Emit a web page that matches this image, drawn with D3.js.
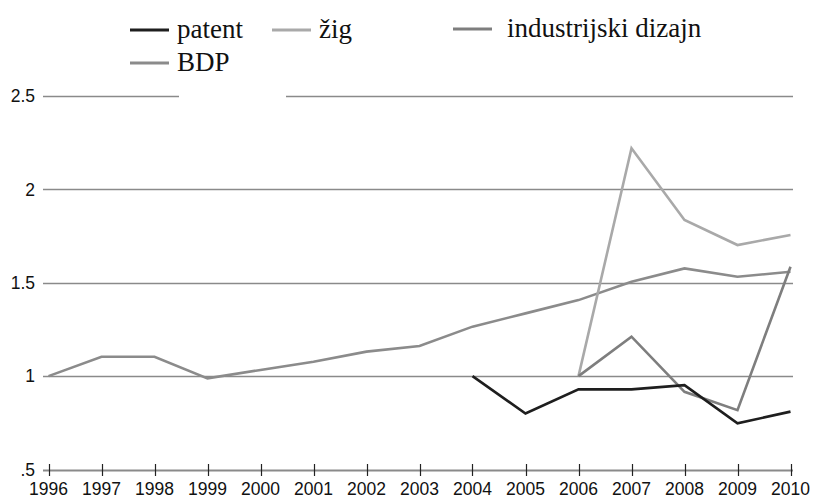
<!DOCTYPE html>
<html><head><meta charset="utf-8">
<script src="https://cdn.jsdelivr.net/npm/d3@7"></script>
<style>
html,body{margin:0;padding:0;background:#fff;}
svg{display:block;}
</style></head>
<body>
<script>
const years = [1996,1997,1998,1999,2000,2001,2002,2003,2004,2005,2006,2007,2008,2009,2010];
const bdp    = [1.0,1.104,1.104,0.988,1.033,1.077,1.131,1.161,1.265,1.336,1.407,1.505,1.577,1.532,1.559];
const zig    = [null,null,null,null,null,null,null,null,null,null,1.0,2.22,1.836,1.702,1.756];
const dizajn = [null,null,null,null,null,null,null,null,null,null,1.0,1.211,0.916,0.818,1.586];
const patent = [null,null,null,null,null,null,null,null,1.0,0.80,0.929,0.929,0.952,0.747,0.81];
const yTicks = [0.5,1,1.5,2,2.5];
const yTickLabels = [".5","1","1.5","2","2.5"];
const seriesNames = ["patent","žig","industrijski dizajn","BDP"];

const W=815,H=499;
const svg=d3.select("body").append("svg").attr("width",W).attr("height",H);
const x=d3.scaleLinear().domain([1996,2010]).range([48.5,790.5]);
const y=d3.scaleLinear().domain([0.5,2.5]).range([469.5,96]);
const gridL=43, gridR=793;
const tickFont="'Liberation Sans', Arial, sans-serif";
const tickSize=17.5;

// gridlines
svg.append("g").selectAll("line").data(yTicks.filter(v=>v>0.5)).join("line")
  .attr("x1",gridL).attr("x2",gridR).attr("y1",d=>Math.round(y(d))+0.5).attr("y2",d=>Math.round(y(d))+0.5)
  .attr("stroke","#8a8a8a").attr("stroke-width",1.6);

// y labels
svg.append("g").selectAll("text").data(yTicks).join("text")
  .attr("x",35).attr("y",d=>y(d)).attr("dy","0.36em").attr("text-anchor","end")
  .attr("font-family",tickFont).attr("font-size",tickSize).attr("fill","#111")
  .text((d,i)=>yTickLabels[i]);

// x axis line
svg.append("line").attr("x1",gridL).attr("x2",gridR).attr("y1",470.5).attr("y2",470.5)
  .attr("stroke","#8a8a8a").attr("stroke-width",1.8);
svg.append("g").selectAll("line").data(years).join("line")
  .attr("x1",d=>Math.round(x(d))+0.5).attr("x2",d=>Math.round(x(d))+0.5).attr("y1",464).attr("y2",476)
  .attr("stroke","#222").attr("stroke-width",1.2);
svg.append("g").selectAll("text").data(years).join("text")
  .attr("x",d=>x(d)).attr("y",495).attr("text-anchor","middle")
  .attr("font-family",tickFont).attr("font-size",tickSize).attr("fill","#111")
  .text(d=>d);

// series
const colors={"patent":"#1e1e1e","žig":"#a9a9a9","industrijski dizajn":"#7e7e7e","BDP":"#8b8b8b"};
const data={"patent":patent,"žig":zig,"industrijski dizajn":dizajn,"BDP":bdp};
const line=d3.line().defined(d=>d.v!=null).x(d=>x(d.yr)).y(d=>y(d.v));
["BDP","žig","industrijski dizajn","patent"].forEach(n=>{
  const pts=years.map((yr,i)=>({yr,v:data[n][i]}));
  svg.append("path").datum(pts).attr("d",line).attr("fill","none")
    .attr("stroke",colors[n]).attr("stroke-width",2.6).attr("stroke-linejoin","miter");
});

// legend (white box over top gridline gap)
svg.append("rect").attr("x",179).attr("y",85).attr("width",107).attr("height",20).attr("fill","#fff");
const legPos=[{x:130,y:30},{x:272,y:30},{x:453,y:29},{x:130,y:63}];
const lg=svg.append("g");
seriesNames.forEach((n,i)=>{
  const p=legPos[i];
  lg.append("line").attr("x1",p.x).attr("x2",p.x+39).attr("y1",p.y).attr("y2",p.y)
    .attr("stroke",colors[n]).attr("stroke-width",3);
  lg.append("text").attr("x",p.x+(i==2?54:47)).attr("y",p.y).attr("dy","0.3em")
    .attr("font-family","'Liberation Serif', serif").attr("font-size",27).attr("fill","#111").text(n);
});
</script>
</body></html>
